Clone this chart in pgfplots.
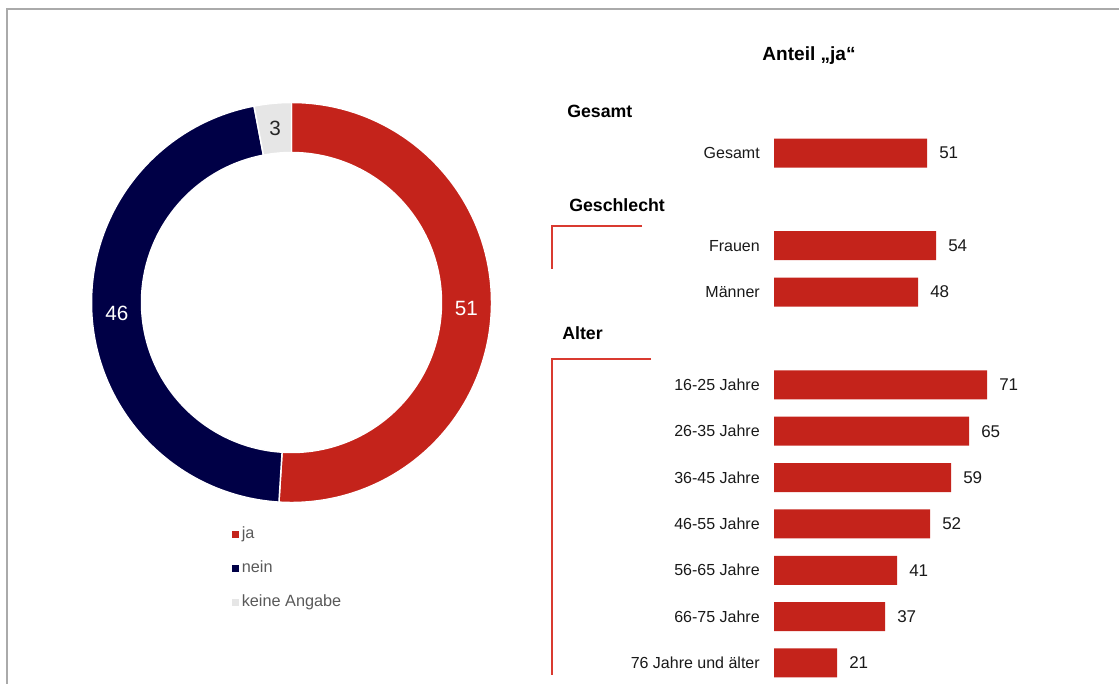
\documentclass[border=0pt]{standalone}
\usepackage{pgfplots}
\pgfplotsset{compat=1.18}
\usepackage{pgfplotstable}
\usepackage{fontspec}
\setmainfont{Liberation Sans}

\definecolor{cja}{HTML}{C4231B}
\definecolor{cnein}{HTML}{000046}
\definecolor{cka}{HTML}{E6E6E6}
\definecolor{cline}{HTML}{D93A30}
\definecolor{cborder}{HTML}{AAAAAA}
\definecolor{clegend}{HTML}{595959}

% Donut: share of answers
\pgfplotstableread[col sep=comma]{
label,value
ja,51
nein,46
keine Angabe,3
}\donutdata

% Bars: share "ja" by group (slot = row position)
\pgfplotstableread[col sep=comma]{
slot,value,label
0,51,Gesamt
2,54,Frauen
3,48,Männer
5,71,16-25 Jahre
6,65,26-35 Jahre
7,59,36-45 Jahre
8,52,46-55 Jahre
9,41,56-65 Jahre
10,37,66-75 Jahre
11,21,76 Jahre und älter
}\bardata

\newcommand\donutslice[3]{%
  \filldraw[fill=#1, draw=white, line width=1.1pt]
    (axis cs:0,0) ++(#2:150pt)
    arc[start angle=#2, end angle=#3, radius=150pt]
    -- ++(#3:-37.5pt)
    arc[start angle=#3, end angle=#2, radius=112.5pt] -- cycle;}

\begin{document}
\begin{tikzpicture}[x=0.75pt,y=-0.75pt]
\path[use as bounding box] (0,0) rectangle (1119,684);
\draw[cborder, line width=1.2pt] (7,684) -- (7,9) -- (1119,9);

\pgfplotstablegetelem{0}{value}\of\donutdata \let\vA\pgfplotsretval
\pgfplotstablegetelem{1}{value}\of\donutdata \let\vB\pgfplotsretval
\pgfplotstablegetelem{2}{value}\of\donutdata \let\vC\pgfplotsretval
\pgfmathsetmacro\aA{90}
\pgfmathsetmacro\aB{\aA-3.6*\vA}
\pgfmathsetmacro\aC{\aB-3.6*\vB}
\pgfmathsetmacro\aD{\aC-3.6*\vC}
\pgfmathsetmacro\mA{(\aA+\aB)/2}
\pgfmathsetmacro\mB{(\aB+\aC)/2}
\pgfmathsetmacro\mC{(\aC+\aD)/2}

\begin{axis}[
  at={(218.625pt,-226.875pt)}, anchor=origin,
  x=0.75pt, y=0.75pt,
  xmin=-200, xmax=200, ymin=-200, ymax=200,
  hide axis, clip=false,
  legend image code/.code={\fill[#1, draw=none] (0pt,-2.6pt) rectangle (5.2pt,2.6pt);},
  legend cell align=left,
  legend style={draw=none, fill=none, at={(0.351,-0.059)}, anchor=north west,
    inner sep=0pt, row sep=13.5pt, font=\fontsize{12.2}{14}\selectfont,
    text=clegend,
    nodes={inner sep=0pt, text height=9pt, text depth=3pt}},
]
\donutslice{cja}{\aA}{\aB}
\donutslice{cnein}{\aB}{\aC}
\donutslice{cka}{\aC}{\aD}
\node[text=white, font=\fontsize{15.5}{18}\selectfont] at (axis cs:{175*cos(\mA)},{175*sin(\mA)}) {\vA};
\node[text=white, font=\fontsize{15.5}{18}\selectfont] at (axis cs:{175*cos(\mB)},{175*sin(\mB)}) {\vB};
\node[text=black!85, font=\fontsize{15.5}{18}\selectfont] at (axis cs:{175*cos(\mC)},{175*sin(\mC)}) {\vC};
\addlegendimage{fill=cja}\addlegendentry{\,ja}
\addlegendimage{fill=cnein}\addlegendentry{\,nein}
\addlegendimage{fill=cka}\addlegendentry{\,keine Angabe}
\end{axis}

\begin{axis}[
  at={(580.5pt,-114.75pt)}, anchor=origin,
  x=2.25pt, y=34.77pt, y dir=reverse,
  xmin=0, xmax=80, ymin=-0.6, ymax=11.6,
  clip=false,
  xbar, bar width=21.75pt,
  hide x axis,
  axis y line*=left,
  y axis line style={draw=none},
  major tick length=0pt,
  ytick=data,
  yticklabels from table={\bardata}{label},
  yticklabel style={font=\fontsize{12}{14}\selectfont, text=black!90, inner sep=0pt, xshift=-10.5pt},
  nodes near coords,
  every node near coord/.append style={font=\fontsize{12.75}{15}\selectfont, text=black!90, anchor=west, inner sep=0pt, xshift=9pt},
  /pgf/number format/assume math mode=true,
]
\addplot[fill=cja, draw=none] table[x=value, y=slot] {\bardata};
\end{axis}

\node[font=\bfseries\fontsize{14.3}{17}\selectfont] at (809,56) {Anteil „ja“};
\node[anchor=west, inner sep=0pt, font=\bfseries\fontsize{13.3}{15}\selectfont] at (567,111) {Gesamt};
\node[anchor=west, inner sep=0pt, font=\bfseries\fontsize{13.3}{15}\selectfont] at (569,205) {Geschlecht};
\node[anchor=west, inner sep=0pt, font=\bfseries\fontsize{13.3}{15}\selectfont] at (562,333) {Alter};

\draw[cline, line width=0.8pt] (642,226) -- (552,226) -- (552,269);
\draw[cline, line width=0.8pt] (651,359) -- (552,359) -- (552,675);
\end{tikzpicture}
\end{document}
